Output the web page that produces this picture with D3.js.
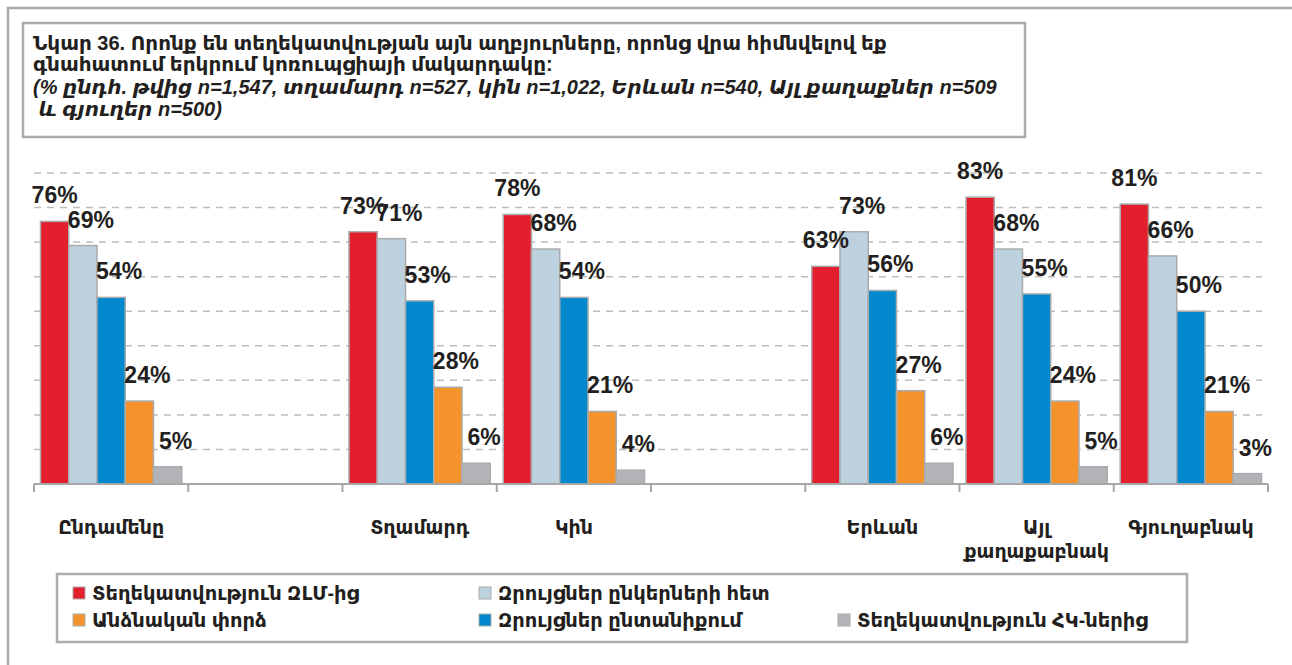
<!DOCTYPE html>
<meta charset="utf-8">
<style>

body {
  margin: 0;
  background: white;
}

text {
  font-family: "Liberation Sans", "DejaVu Sans", sans-serif;
  fill: #231f20;
}

.grid line {
  stroke: #bdbdbd;
  stroke-width: 1.5px;
  stroke-dasharray: 7px 6px;
}

.axis line, .axis path {
  stroke: #a6a6a6;
  stroke-width: 2px;
  fill: none;
}

.bars rect {
  stroke: #a9abae;
  stroke-width: 1.5px;
}

.values text {
  font-size: 23px;
  font-weight: bold;
  text-anchor: middle;
}

.cats text {
  font-size: 19px;
  font-weight: bold;
  text-anchor: middle;
}

.legend text {
  font-size: 19.5px;
  font-weight: bold;
}

.title text {
  font-size: 20px;
  font-weight: bold;
}

.frame {
  fill: none;
  stroke: #a9abae;
  stroke-width: 2.5px;
}

</style>
<svg></svg>
<script src="https://cdnjs.cloudflare.com/ajax/libs/d3/7.8.5/d3.min.js"></script>
<script>

var width = 1292;
var height = 665;

// categories, empty strings are the blank slots between groups
var categories = ['Ընդամենը', '', 'Տղամարդ', 'Կին', '', 'Երևան', 'Այլ քաղաքաբնակ', 'Գյուղաբնակ'];
var seriesNames = ['Տեղեկատվություն ԶԼՄ-ից', 'Զրույցներ ընկերների հետ', 'Զրույցներ ընտանիքում', 'Անձնական փորձ', 'Տեղեկատվություն ՀԿ-ներից'];
var seriesColors = ['#e31e2d', '#bed1df', '#0288cc', '#f4922b', '#b2b3b6'];

var media    = [76, null, 73, 78, null, 63, 83, 81];
var friends  = [69, null, 71, 68, null, 73, 68, 66];
var family   = [54, null, 53, 54, null, 56, 55, 50];
var personal = [24, null, 28, 21, null, 27, 24, 21];
var ngo      = [5, null, 6, 4, null, 6, 5, 3];
var seriesValues = [media, friends, family, personal, ngo];

var gridTicks = [10, 20, 30, 40, 50, 60, 70, 80, 90];

var titleLines = [
  'Նկար 36. Որոնք են տեղեկատվության այն աղբյուրները, որոնց վրա հիմնվելով եք',
  'գնահատում երկրում կոռուպցիայի մակարդակը:'
];
var subtitleLines = [
  '(% ընդհ. թվից n=1,547, տղամարդ n=527, կին n=1,022, Երևան n=540, Այլ քաղաքներ n=509',
  ' և գյուղեր n=500)'
];

// legend order as in the picture (two rows)
var legendOrder = [0, 1, 3, 2, 4];

var svg = d3.select('svg')
  .attr('width', width)
  .attr('height', height);

// outer frame, only left and top edges show
svg.append('path')
  .attr('class', 'frame')
  .attr('d', 'M8,' + height + 'V8H' + width);

var x0 = 34, x1 = 1268, yBase = 484;

var x = d3.scaleBand()
  .domain(d3.range(categories.length))
  .range([x0, x1]);

var xInner = d3.scaleBand()
  .domain(d3.range(seriesNames.length))
  .range([0, x.bandwidth()])
  .paddingOuter(0.23);

var y = d3.scaleLinear()
  .domain([0, 90])
  .range([yBase, yBase - 311]);

svg.append('g')
  .attr('class', 'grid')
  .selectAll('line')
  .data(gridTicks)
  .enter().append('line')
  .attr('x1', x0)
  .attr('x2', 1262)
  .attr('y1', function (d) { return y(d); })
  .attr('y2', function (d) { return y(d); });

// bars
var rows = [];
seriesValues.forEach(function (vals, s) {
  vals.forEach(function (v, c) {
    if (v != null) rows.push({ s: s, c: c, v: v });
  });
});

svg.append('g')
  .attr('class', 'bars')
  .selectAll('rect')
  .data(rows)
  .enter().append('rect')
  .attr('x', function (d) { return x(d.c) + xInner(d.s); })
  .attr('width', xInner.bandwidth())
  .attr('y', function (d) { return y(d.v); })
  .attr('height', function (d) { return y(0) - y(d.v); })
  .attr('fill', function (d) { return seriesColors[d.s]; });

// axis with ticks at band edges
var axis = svg.append('g').attr('class', 'axis');
axis.append('line')
  .attr('x1', x0).attr('x2', x1)
  .attr('y1', yBase).attr('y2', yBase);
axis.selectAll('line.tick')
  .data(d3.range(categories.length + 1))
  .enter().append('line')
  .attr('class', 'tick')
  .attr('x1', function (i) { return x0 + i * x.step(); })
  .attr('x2', function (i) { return x0 + i * x.step(); })
  .attr('y1', yBase)
  .attr('y2', yBase + 8);

svg.append('g')
  .attr('class', 'values')
  .selectAll('text')
  .data(rows)
  .enter().append('text')
  .attr('x', function (d) { return x(d.c) + xInner(d.s) + xInner.bandwidth() / 2 + (d.s === 0 ? 0 : 8); })
  .attr('y', function (d) { return y(d.v) - 18; })
  .text(function (d) { return d.v + '%'; });

// category labels, the long one wraps
var cats = svg.append('g')
  .attr('class', 'cats')
  .selectAll('text')
  .data(categories)
  .enter().append('text')
  .attr('x', function (d, i) { return x(i) + x.bandwidth() / 2; })
  .attr('y', 534);

cats.selectAll('tspan')
  .data(function (d) { return d.split(' '); })
  .enter().append('tspan')
  .attr('x', function () { return d3.select(this.parentNode).attr('x'); })
  .attr('dy', function (d, i) { return i ? 24 : 0; })
  .text(function (d) { return d; });

// title box
var title = svg.append('g').attr('class', 'title');
title.append('rect')
  .attr('class', 'frame')
  .attr('x', 23).attr('y', 23)
  .attr('width', 1002).attr('height', 114);

title.selectAll('text.t')
  .data(titleLines)
  .enter().append('text')
  .attr('class', 't')
  .attr('x', 33)
  .attr('y', function (d, i) { return 50 + i * 21; })
  .text(function (d) { return d; });

title.selectAll('text.s')
  .data(subtitleLines)
  .enter().append('text')
  .attr('class', 's')
  .attr('x', 33)
  .attr('y', function (d, i) { return 94 + i * 22; })
  .style('font-style', 'italic')
  .attr('xml:space', 'preserve')
  .text(function (d) { return d; });

// legend
var legend = svg.append('g').attr('class', 'legend');
legend.append('rect')
  .attr('class', 'frame')
  .attr('x', 57).attr('y', 574)
  .attr('width', 1130).attr('height', 68);

var legendX = [73, 479, 73, 479, 838];
var legendY = [594, 594, 621, 621, 621];

var item = legend.selectAll('g.item')
  .data(legendOrder)
  .enter().append('g')
  .attr('class', 'item')
  .attr('transform', function (s, i) { return 'translate(' + legendX[i] + ',' + legendY[i] + ')'; });

item.append('rect')
  .attr('x', 0).attr('y', -7)
  .attr('width', 12).attr('height', 12)
  .attr('fill', function (s) { return seriesColors[s]; })
  .attr('stroke', '#a9abae')
  .attr('stroke-width', 1);

item.append('text')
  .attr('x', 19)
  .attr('y', 6)
  .text(function (s) { return seriesNames[s]; });

</script>
